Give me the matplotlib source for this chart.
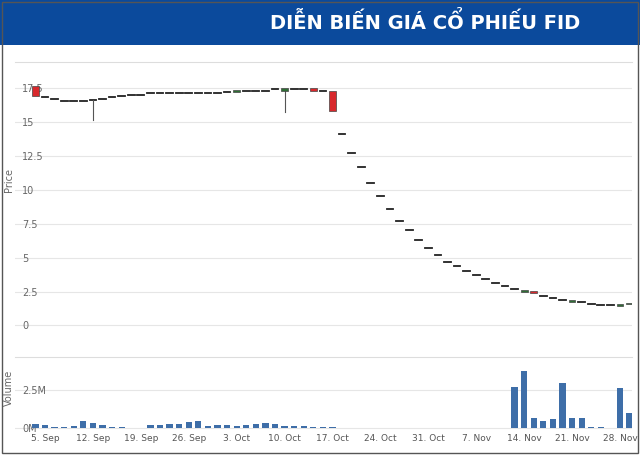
import matplotlib
matplotlib.use("Agg")
import matplotlib.pyplot as plt
import pandas as pd
import numpy as np
from matplotlib.patches import Rectangle

dates = [d for d in pd.bdate_range("2016-09-01", "2016-11-29") if d != pd.Timestamp("2016-09-02")]
closes = [16.9, 16.8, 16.7, 16.5, 16.5, 16.5, 16.6, 16.7, 16.8, 16.9, 17.0,
          17.0, 17.1, 17.1, 17.1, 17.1, 17.1, 17.1, 17.1, 17.1, 17.2,
          17.35, 17.3, 17.3, 17.3, 17.4, 17.45, 17.4, 17.4, 17.25, 17.3, 15.8,
          14.1, 12.7, 11.7, 10.5, 9.5, 8.6, 7.7, 7.0, 6.3, 5.7, 5.2, 4.7, 4.4, 4.0,
          3.7, 3.4, 3.1, 2.9, 2.7, 2.6, 2.4, 2.2, 2.0, 1.9, 1.85, 1.7, 1.6, 1.5, 1.5, 1.55, 1.65]
opens = [17.6, 16.8, 16.7, 16.5, 16.5, 16.5, 16.6, 16.7, 16.8, 16.9, 17.0,
         17.0, 17.1, 17.1, 17.1, 17.1, 17.1, 17.1, 17.1, 17.1, 17.2,
         17.2, 17.3, 17.3, 17.3, 17.4, 17.25, 17.4, 17.4, 17.45, 17.3, 17.3,
         14.1, 12.7, 11.7, 10.5, 9.5, 8.6, 7.7, 7.0, 6.3, 5.7, 5.2, 4.7, 4.4, 4.0,
         3.7, 3.4, 3.1, 2.9, 2.7, 2.45, 2.55, 2.2, 2.0, 1.9, 1.75, 1.7, 1.6, 1.5, 1.5, 1.4, 1.55]
lows = list(np.minimum(opens, closes))
lows[6] = 15.1
lows[26] = 15.7
highs = list(np.maximum(opens, closes))
volumes = [0.3, 0.25, 0.1, 0.1, 0.15, 0.5, 0.35, 0.25, 0.08, 0.08, 0.05,
           0.05, 0.2, 0.25, 0.3, 0.3, 0.4, 0.5, 0.15, 0.25, 0.2,
           0.15, 0.25, 0.3, 0.35, 0.3, 0.15, 0.15, 0.15, 0.1, 0.1, 0.1,
           0, 0, 0, 0, 0, 0, 0, 0, 0, 0, 0, 0, 0, 0.05,
           0, 0, 0, 0, 2.7, 3.7, 0.7, 0.5, 0.6, 2.9, 0.7, 0.7, 0.1, 0.1, 0.05, 2.6, 1.0]
tick_dates = ["2016-09-05", "2016-09-12", "2016-09-19", "2016-09-26", "2016-10-03", "2016-10-10",
              "2016-10-17", "2016-10-24", "2016-10-31", "2016-11-07", "2016-11-14", "2016-11-21", "2016-11-28"]
tick_labels = ["5. Sep", "12. Sep", "19. Sep", "26. Sep", "3. Oct", "10. Oct", "17. Oct",
               "24. Oct", "31. Oct", "7. Nov", "14. Nov", "21. Nov", "28. Nov"]

# ordinal (trading-day) axis
x = np.arange(len(dates), dtype=float)
tx = [dates.index(pd.Timestamp(t)) for t in tick_dates]

W, H = 640, 455
fig = plt.figure(figsize=(6.4, 4.55), dpi=100)
fig.patch.set_facecolor("white")
fig.patches.append(Rectangle((0, 1 - 45 / H), 1, 45 / H, transform=fig.transFigure,
                             facecolor="#0b4a9c", edgecolor="none"))
fig.patches.append(Rectangle((2 / W, 2 / H), 1 - 4 / W, 1 - 4 / H, transform=fig.transFigure,
                             facecolor="none", edgecolor="#555555", lw=1))
fig.text(0.665, 1 - 22 / H, "DIỄN BIẾN GIÁ CỔ PHIẾU FID", color="white", fontsize=14,
         fontweight="bold", ha="center", va="center",
         family=["Liberation Sans Narrow", "DejaVu Sans"])

def ax_rect(l, t, r, b):
    return [l / W, 1 - b / H, (r - l) / W, (b - t) / H]

px = (620 - 45) / (tx[-1] - tx[0])
xlim = (tx[0] - 30 / px, tx[-1] + 12 / px)
ax1 = fig.add_axes(ax_rect(15, 62, 632, 335))
ax2 = fig.add_axes(ax_rect(15, 357, 632, 430))
for ax in (ax1, ax2):
    ax.set_xlim(*xlim)
    for s in ax.spines.values():
        s.set_visible(False)
    ax.spines["top"].set_visible(True)
    ax.spines["top"].set_color("#dddddd")
    ax.grid(axis="y", color="#e6e6e6", lw=0.8)
    ax.set_axisbelow(True)
    ax.tick_params(axis="y", direction="in", pad=-5, length=0, labelsize=7, labelcolor="#666666")

ax1.set_ylim(-0.7, 19.4)
ax1.set_yticks([0, 2.5, 5, 7.5, 10, 12.5, 15, 17.5])
ax1.set_yticklabels(["0", "2.5", "5", "7.5", "10", "12.5", "15", "17.5"], ha="left")
ax1.set_xticks([])
bw = 0.7
for xi, o, c, lo, hi in zip(x, opens, closes, lows, highs):
    if abs(o - c) < 0.02:
        ax1.plot([xi - 0.35, xi + 0.35], [c, c], color="#222222", lw=1.3)
    else:
        col = "#2f6e35" if c > o else "#d8282c"
        ax1.add_patch(Rectangle((xi - bw / 2, min(o, c)), bw, abs(c - o), facecolor=col,
                                edgecolor="#444444", lw=0.5, zorder=3))
    if lo < min(o, c) - 0.05:
        ax1.plot([xi, xi], [lo, min(o, c)], color="#555555", lw=0.8, zorder=2)

ax2.bar(x, volumes, width=0.65, color="#3e6ea8")
ax2.set_ylim(-0.1, 4.6)
ax2.set_yticks([0, 2.5])
ax2.set_yticklabels(["0M", "2.5M"], ha="left")
ax2.set_xticks(tx)
ax2.set_xticklabels(tick_labels, fontsize=6.5, color="#555555")
ax2.tick_params(axis="x", length=0, pad=3)

fig.text(9 / W, 1 - 180 / H, "Price", rotation=90, fontsize=7, color="#666666",
         ha="center", va="center")
fig.text(9 / W, 1 - 388 / H, "Volume", rotation=90, fontsize=7, color="#666666",
         ha="center", va="center")

fig.savefig("out.png", dpi=100)
